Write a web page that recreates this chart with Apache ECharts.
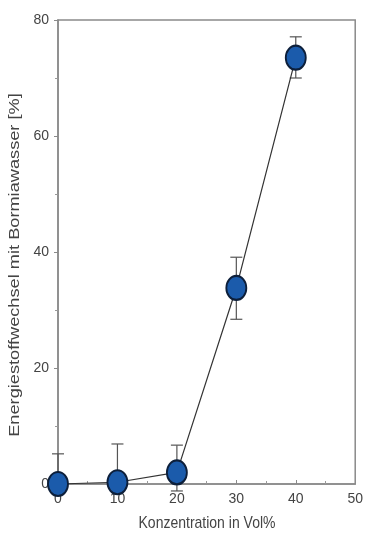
<!DOCTYPE html>
<html><head><meta charset="utf-8">
<script src="https://cdn.jsdelivr.net/npm/echarts@6/dist/echarts.min.js"></script>
<style>html,body{margin:0;padding:0;background:#fff}#c{width:366px;height:549px}</style>
</head><body><div id="c"></div>
<script>
const concentrations = [0, 10, 20, 30, 40];
const meanValues = [0, 0.3, 2.0, 33.8, 73.5];
const errUpper = [5.2, 6.9, 6.7, 39.1, 77.1];
const errLower = [0, 0, -1.2, 28.4, 70.0];
const xTicks = [0, 10, 20, 30, 40, 50];
const yTicks = [0, 20, 40, 60, 80];
const xTitle = 'Konzentration in Vol%';
const yTitle = 'Energiestoffwechsel mit Bormiawasser [%]';

const chart = echarts.init(document.getElementById('c'));
const font = 'Liberation Sans, Arial, sans-serif';
const errData = concentrations.map((x, i) => [x, errLower[i], errUpper[i]]);
chart.setOption({
  animation: false,
  backgroundColor: '#fff',
  grid: {left: 58, right: 9, top: 20, bottom: 65, show: true, borderColor: '#8a8a8a', borderWidth: 1.5},
  graphic: [
    {type: 'text', x: 15, y: 265, rotation: Math.PI / 2, scaleX: 1.3, scaleY: 1,
     style: {text: yTitle, fontFamily: font, fontSize: 14, fill: '#444', textAlign: 'center', textVerticalAlign: 'middle'}},
    {type: 'text', x: 207, y: 523, scaleX: 1, scaleY: 1.2,
     style: {text: xTitle, fontFamily: font, fontSize: 14, fill: '#444', textAlign: 'center', textVerticalAlign: 'middle'}}
  ],
  xAxis: {
    type: 'value', min: 0, max: 50, interval: 10,
    axisLine: {lineStyle: {color: '#8a8a8a', width: 1.5}},
    axisTick: {inside: true, length: 4, lineStyle: {color: '#8a8a8a'}},
    minorTick: {show: true, splitNumber: 2, length: 3, lineStyle: {color: '#999'}},
    axisLabel: {fontFamily: font, fontSize: 14, color: '#444', margin: 8,
      formatter: v => xTicks.includes(v) ? String(v) : ''},
    splitLine: {show: false}
  },
  yAxis: {
    type: 'value', min: 0, max: 80, interval: 20,
    axisLine: {lineStyle: {color: '#8a8a8a', width: 1.5}},
    axisTick: {inside: false, length: 4, lineStyle: {color: '#8a8a8a'}},
    minorTick: {show: true, splitNumber: 2, length: 3, lineStyle: {color: '#999'}},
    axisLabel: {fontFamily: font, fontSize: 14, color: '#444', margin: 9,
      formatter: v => yTicks.includes(v) ? String(v) : ''},
    splitLine: {show: false}
  },
  series: [
    {
      type: 'custom',
      z: 1,
      data: errData,
      renderItem: function (params, api) {
        const x = api.value(0);
        const lo = api.coord([x, api.value(1)]);
        const hi = api.coord([x, api.value(2)]);
        const hw = 6;
        const st = {stroke: '#555', lineWidth: 1.2};
        return {type: 'group', children: [
          {type: 'line', shape: {x1: lo[0], y1: lo[1], x2: hi[0], y2: hi[1]}, style: st},
          {type: 'line', shape: {x1: hi[0] - hw, y1: hi[1], x2: hi[0] + hw, y2: hi[1]}, style: st},
          {type: 'line', shape: {x1: lo[0] - hw, y1: lo[1], x2: lo[0] + hw, y2: lo[1]}, style: st}
        ]};
      }
    },
    {
      type: 'line',
      z: 2,
      data: concentrations.map((x, i) => [x, meanValues[i]]),
      lineStyle: {color: '#333', width: 1.2},
      symbol: 'circle',
      symbolSize: [20, 24],
      itemStyle: {color: '#1b5bab', borderColor: '#0d1f3a', borderWidth: 2},
      clip: false
    }
  ]
});
</script></body></html>
